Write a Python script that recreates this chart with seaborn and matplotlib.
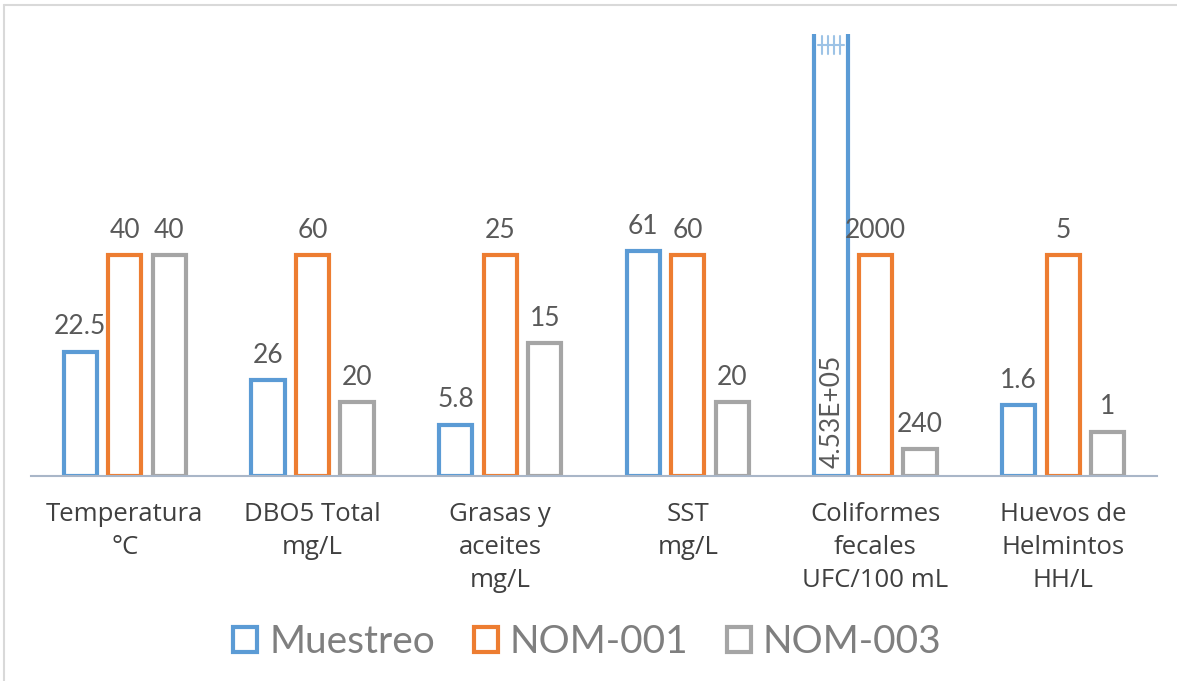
import numpy as np
import pandas as pd
import matplotlib
matplotlib.use("Agg")
import matplotlib.pyplot as plt
from matplotlib.patches import Patch
from matplotlib.lines import Line2D
from matplotlib.transforms import blended_transform_factory
import seaborn as sns

# Parameters and measured values
categories = [
    "Temperatura\n°C",
    "DBO5 Total\nmg/L",
    "Grasas y\naceites\nmg/L",
    "SST\nmg/L",
    "Coliformes\nfecales\nUFC/100 mL",
    "Huevos de\nHelmintos\nHH/L",
]
series_names = ["Muestreo", "NOM-001", "NOM-003"]
muestreo = [22.5, 26, 5.8, 61, 4.53e5, 1.6]
nom_001 = [40, 60, 25, 60, 2000, 5]
nom_003 = [40, 20, 15, 20, 240, 1]

colors = ["#5B9BD5", "#ED7D31", "#A5A5A5"]
value_color = "#595959"
label_color = "#404040"
legend_color = "#7F7F7F"

sns.set_theme(style="white")
plt.rcParams["font.family"] = ["Lato", "DejaVu Sans"]

# Each parameter is shown relative to its NOM-001 limit so all groups share one axis
rows = []
for i, cat in enumerate(categories):
    ref = nom_001[i]
    for name, vals in zip(series_names, [muestreo, nom_001, nom_003]):
        rows.append({"categoria": cat, "serie": name,
                     "valor": vals[i], "relativo": vals[i] / ref})
df = pd.DataFrame(rows)

W, H, DPI = 1177, 681, 100
fig = plt.figure(figsize=(W / DPI, H / DPI), dpi=DPI)
ax = fig.add_axes([31 / W, 1 - 476 / H, (1157 - 31) / W, (476 - 34) / H])

sns.barplot(data=df, x="categoria", y="relativo", hue="serie",
            hue_order=series_names, order=categories, palette=colors,
            fill=False, width=0.711, gap=0.257, linewidth=3.0,
            errorbar=None, ax=ax, legend=False)

ax.set_ylim(0, 2.0)
ax.set_xlim(-0.5, len(categories) - 0.5)
ax.set_ylabel("")
ax.set_xlabel("")
ax.set_yticks([])
for side in ["left", "right", "top"]:
    ax.spines[side].set_visible(False)
ax.spines["bottom"].set_color("#A9B6C8")
ax.spines["bottom"].set_linewidth(1.5)
ax.tick_params(axis="x", length=0, pad=19)
for lab in ax.get_xticklabels():
    lab.set_fontfamily(["Open Sans", "DejaVu Sans"])
    lab.set_fontsize(18.5)
    lab.set_color(label_color)
    lab.set_linespacing(1.42)


def fmt(v):
    if v >= 1e5:
        return f"{v:.2E}"
    return f"{v:g}"


ymax = ax.get_ylim()[1]
for container, name in zip(ax.containers, series_names):
    for bar, (_, row) in zip(container, df[df["serie"] == name].iterrows()):
        cx = bar.get_x() + bar.get_width() / 2
        h = bar.get_height()
        text = fmt(row["valor"])
        if h > ymax:
            # Bar runs off the top of the axis: label inside, rotated
            ax.annotate(text, (cx, 0), xytext=(1, 6), textcoords="offset points",
                        rotation=90, ha="center", va="bottom",
                        fontsize=19, color=value_color)
            # break marks at the clipped end
            tr = blended_transform_factory(ax.transData, ax.transAxes)
            bw = bar.get_width()
            ax.plot([cx - bw * 0.4, cx + bw * 0.4], [0.975, 0.975],
                    color="#9DC3E6", lw=1.5, transform=tr, clip_on=False)
            for f in (-0.27, -0.09, 0.09, 0.27):
                ax.plot([cx + f * bw, cx + f * bw], [0.955, 0.995],
                        color="#9DC3E6", lw=1.5, transform=tr, clip_on=False)
        else:
            ax.annotate(text, (cx, h), xytext=(0, 9), textcoords="offset points",
                        ha="center", va="bottom", fontsize=19, color=value_color)

handles = [Patch(facecolor="white", edgecolor=c, linewidth=3.0, label=n)
           for c, n in zip(colors, series_names)]
leg = fig.legend(handles=handles, loc="center", bbox_to_anchor=(0.499, 1 - 642 / H),
                 ncol=3, frameon=False, fontsize=28, handlelength=0.62,
                 handleheight=0.62, handletextpad=0.3, columnspacing=1.0)
for t in leg.get_texts():
    t.set_color(legend_color)

# chart-area border: top and left edges
x0, y0 = 4 / W, 1 - 5 / H
fig.add_artist(Line2D([x0, 1.0], [y0, y0], transform=fig.transFigure,
                      color="#D9D9D9", lw=1.5))
fig.add_artist(Line2D([x0, x0], [0.0, y0], transform=fig.transFigure,
                      color="#D9D9D9", lw=1.5))

fig.savefig("out.png", dpi=DPI)
